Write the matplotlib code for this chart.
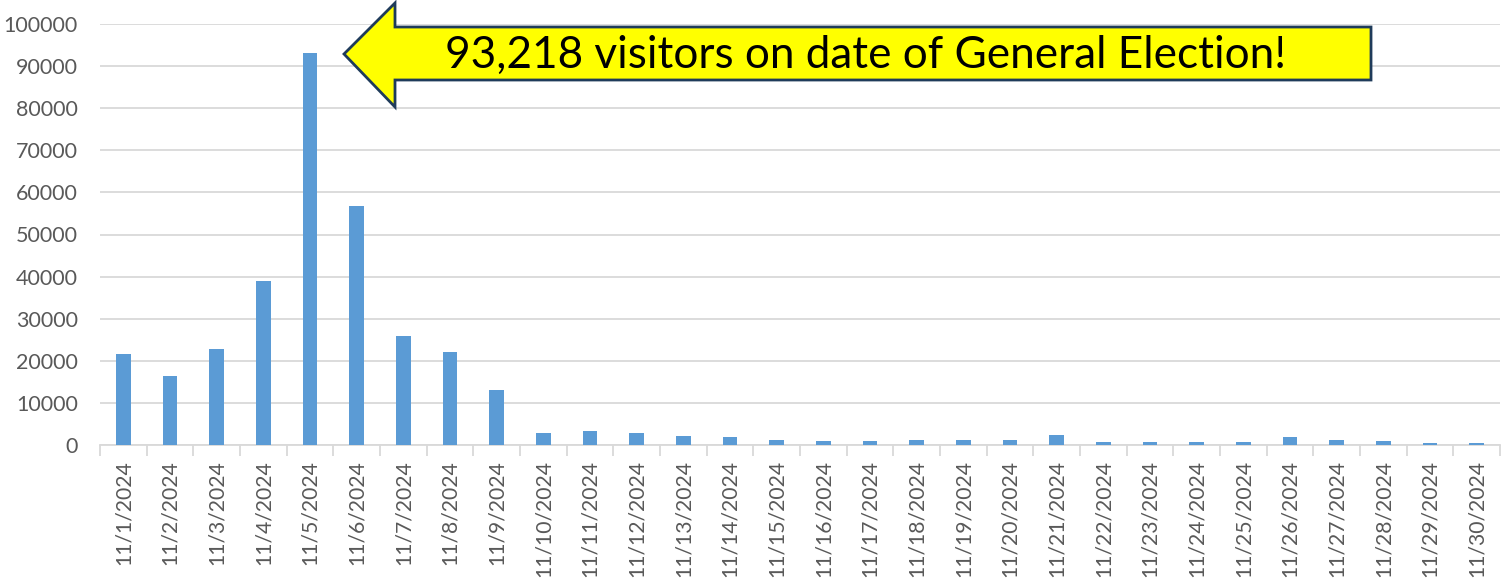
import matplotlib.pyplot as plt
from matplotlib.patches import Polygon

dates = ['11/%d/2024' % d for d in range(1, 31)]
visitors = [21700, 16400, 22900, 39000, 93218, 56700, 26000, 22100, 13100,
            2800, 3300, 2950, 2150, 2000, 1200, 950, 870, 1200, 1100, 1200,
            2400, 800, 630, 630, 630, 1900, 1100, 950, 470, 470]
yticks = list(range(0, 100001, 10000))
note = '93,218 visitors on date of General Election!'

plt.rcParams['font.family'] = ['Lato', 'DejaVu Sans']

W, H = 1508, 582
fig = plt.figure(figsize=(W / 100, H / 100), dpi=100)
ax = fig.add_axes([100 / W, 1 - 445 / H, 1400 / W, 421 / H])

x = list(range(len(dates)))
ax.bar(x, visitors, width=0.32, color='#5b9bd5', zorder=3)

ax.set_xlim(-0.5, len(dates) - 0.5)
ax.set_ylim(0, 100000)
ax.set_yticks(yticks)
ax.set_yticklabels([str(v) for v in yticks], fontsize=15.5, color='#595959')
ax.grid(axis='y', color='#d9d9d9', linewidth=1.3, zorder=0)
ax.tick_params(axis='y', length=0, pad=16)

ax.set_xticks(x)
ax.set_xticklabels(dates, rotation=90, fontsize=15.2, color='#595959')
ax.tick_params(axis='x', which='major', length=0, pad=11)
ax.set_xticks([i - 0.5 for i in range(len(dates) + 1)], minor=True)
ax.tick_params(axis='x', which='minor', length=8, width=1.3, color='#d9d9d9')

for s in ['top', 'right', 'left']:
    ax.spines[s].set_visible(False)
ax.spines['bottom'].set_color('#d9d9d9')
ax.spines['bottom'].set_linewidth(1.3)

# callout arrow (figure pixel coords, y measured from top)
pts = [(344, 54), (395, 3), (395, 27), (1371, 27), (1371, 80), (395, 80), (395, 107)]
pts = [(px / W, 1 - py / H) for px, py in pts]
fig.patches.append(Polygon(pts, closed=True, transform=fig.transFigure,
                           facecolor='#ffff00', edgecolor='#1f3b5a',
                           linewidth=2, zorder=5))
fig.text(866 / W, 1 - 55 / H, note, fontsize=31.8, ha='center', va='center',
         color='black', zorder=6)

plt.savefig('out.png', dpi=100)
